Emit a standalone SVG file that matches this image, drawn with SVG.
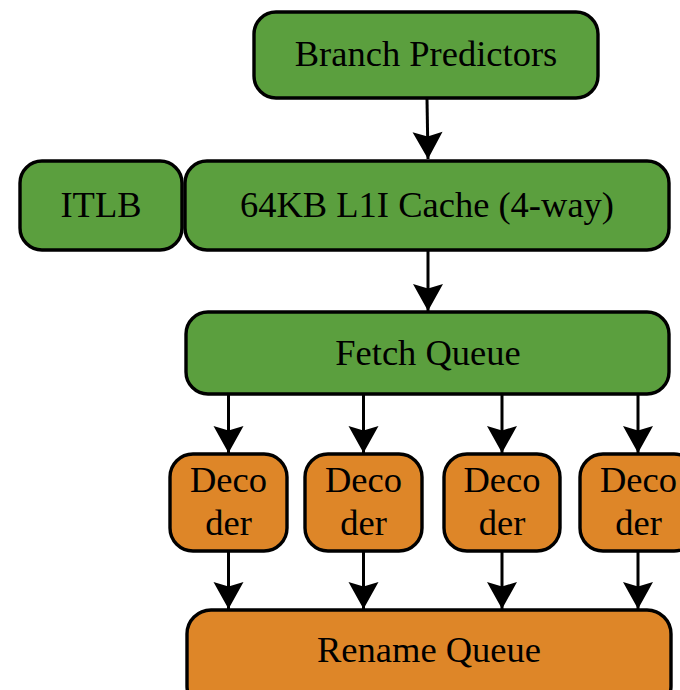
<svg xmlns="http://www.w3.org/2000/svg" width="680" height="690" viewBox="0 0 680 690">
  <style>
    .green { fill: #5B9F3E; stroke: #000; stroke-width: 3.4; }
    .orange { fill: #DE8628; stroke: #000; stroke-width: 3.4; }
    .label { font-family: "Liberation Serif", "Times New Roman", serif; font-size: 36.5px; fill: #000; text-anchor: middle; }
    .edge { stroke: #000; stroke-width: 3; fill: none; marker-end: url(#arrow); }
  </style>
  <defs>
    <marker id="arrow" markerUnits="userSpaceOnUse" markerWidth="32" markerHeight="32" viewBox="-28 -16 30 32" refX="0" refY="0" orient="auto">
      <path d="M0,0 L-27,-15 L-22.5,0 L-27,15 Z" fill="#000"/>
    </marker>
  </defs>
  <rect width="680" height="690" fill="#fff"/>

  <g id="connectors">
    <line class="edge" x1="427" y1="99" x2="428" y2="159"/>
    <line class="edge" x1="428" y1="251" x2="428" y2="311"/>
    <line class="edge" x1="228.5" y1="395" x2="228.5" y2="453"/>
    <line class="edge" x1="363.5" y1="395" x2="363.5" y2="453"/>
    <line class="edge" x1="502" y1="395" x2="502" y2="453"/>
    <line class="edge" x1="638" y1="395" x2="638" y2="453"/>
    <line class="edge" x1="228.5" y1="551" x2="228.5" y2="609"/>
    <line class="edge" x1="363.5" y1="551" x2="363.5" y2="609"/>
    <line class="edge" x1="502" y1="551" x2="502" y2="609"/>
    <line class="edge" x1="638" y1="551" x2="638" y2="609"/>
  </g>

  <g id="branch-predictors">
    <rect class="green" x="254" y="12" width="344" height="86" rx="22"/>
    <text class="label" x="426" y="66">Branch Predictors</text>
  </g>

  <g id="itlb">
    <rect class="green" x="20" y="161" width="162" height="89" rx="22"/>
    <text class="label" x="101" y="217">ITLB</text>
  </g>

  <g id="l1i-cache">
    <rect class="green" x="185" y="161" width="484" height="89" rx="22"/>
    <text class="label" x="427" y="217">64KB L1I Cache (4-way)</text>
  </g>

  <g id="fetch-queue">
    <rect class="green" x="186" y="312" width="483" height="82" rx="22"/>
    <text class="label" x="428" y="365">Fetch Queue</text>
  </g>

  <g id="decoder-1">
    <rect class="orange" x="170" y="454" width="117" height="97" rx="23"/>
    <text class="label" x="228.5" y="492">Deco</text>
    <text class="label" x="228.5" y="535">der</text>
  </g>

  <g id="decoder-2">
    <rect class="orange" x="305" y="454" width="117" height="97" rx="23"/>
    <text class="label" x="363.5" y="492">Deco</text>
    <text class="label" x="363.5" y="535">der</text>
  </g>

  <g id="decoder-3">
    <rect class="orange" x="444" y="454" width="116" height="97" rx="23"/>
    <text class="label" x="502" y="492">Deco</text>
    <text class="label" x="502" y="535">der</text>
  </g>

  <g id="decoder-4">
    <rect class="orange" x="580" y="454" width="117" height="97" rx="23"/>
    <text class="label" x="638.5" y="492">Deco</text>
    <text class="label" x="638.5" y="535">der</text>
  </g>

  <g id="rename-queue">
    <rect class="orange" x="187" y="610" width="484" height="100" rx="24"/>
    <text class="label" x="429" y="662">Rename Queue</text>
  </g>
</svg>
